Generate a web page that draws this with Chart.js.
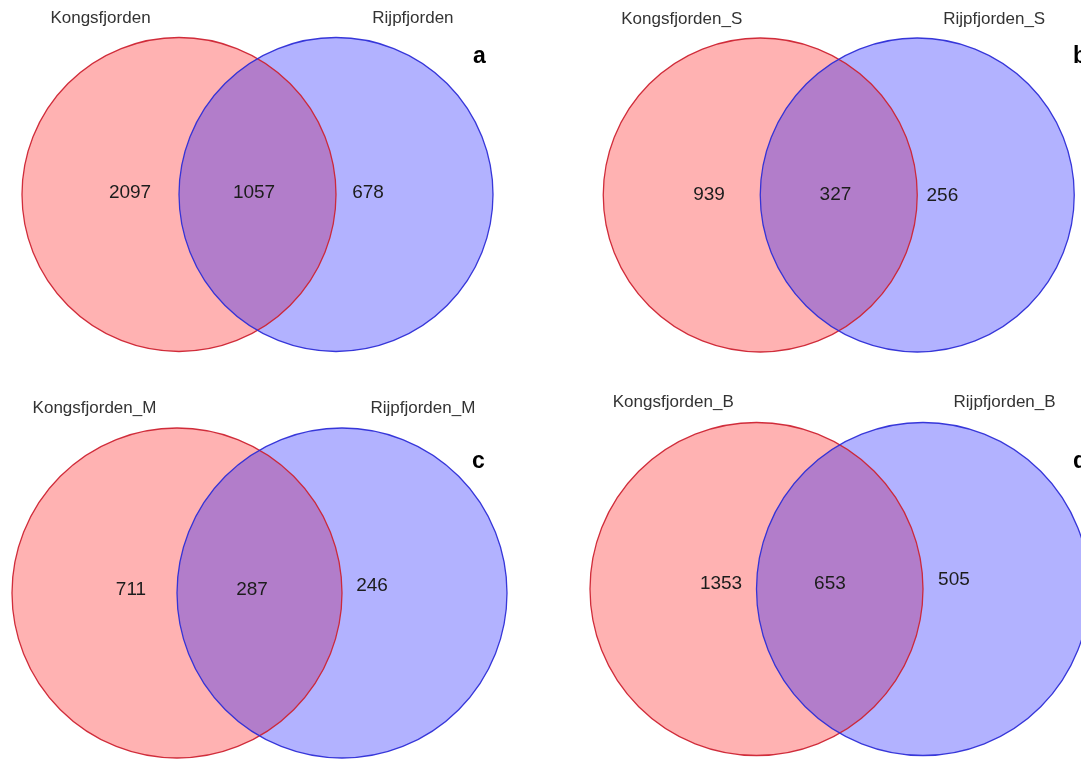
<!DOCTYPE html>
<html>
<head>
<meta charset="utf-8">
<title>Kongsfjorden / Rijpfjorden overlap</title>
<script src="https://cdn.jsdelivr.net/npm/chart.js@4.4.1/dist/chart.umd.min.js"></script>
<style>
  html, body { margin: 0; padding: 0; background: #ffffff; }
  #page { position: relative; width: 1081px; height: 760px; overflow: hidden; background: #ffffff; }
  #page canvas { position: absolute; }
</style>
</head>
<body>
<div id="page">
  <canvas id="venn-a" width="540" height="380" style="left:0px;top:0px"></canvas>
  <canvas id="venn-b" width="541" height="380" style="left:540px;top:0px"></canvas>
  <canvas id="venn-c" width="540" height="380" style="left:0px;top:380px"></canvas>
  <canvas id="venn-d" width="541" height="380" style="left:540px;top:380px"></canvas>
</div>
<script>
// Panel tags
const panelTags = ['a', 'b', 'c', 'd'];

// Set names (left circle, right circle) for each panel
const leftSets  = ['Kongsfjorden', 'Kongsfjorden_S', 'Kongsfjorden_M', 'Kongsfjorden_B'];
const rightSets = ['Rijpfjorden',  'Rijpfjorden_S',  'Rijpfjorden_M',  'Rijpfjorden_B'];

// Counts per region: [left only, shared, right only]
const countsA = [2097, 1057, 678];
const countsB = [939, 327, 256];
const countsC = [711, 287, 246];
const countsD = [1353, 653, 505];
const allCounts = [countsA, countsB, countsC, countsD];

// ---- Layout (in circle-radius units around the midpoint of the two centres) ----
const circleCentres = [-0.5, 0.5];           // two equal circles, centre distance = radius
const nameX = [-1.0, 0.99];
const nameY = 1.12;

const panelLayout = [
  { id: 'venn-a', midX: 257.5, midY: 194.5, radius: 157,
    numX: [-0.812, -0.022, 0.704], numY: [0.01, 0.01, 0.01],
    tag: { x: 473, y: 57 } },
  { id: 'venn-b', midX: 298.75, midY: 195, radius: 157,
    numX: [-0.826, -0.021, 0.660], numY: [0.0, 0.0, -0.006],
    tag: { x: 533, y: 57 } },
  { id: 'venn-c', midX: 259.5, midY: 213, radius: 165,
    numX: [-0.779, -0.045, 0.682], numY: [0.018, 0.018, 0.042],
    tag: { x: 472, y: 82 } },
  { id: 'venn-d', midX: 299.75, midY: 209, radius: 166.5,
    numX: [-0.713, -0.059, 0.686], numY: [0.030, 0.030, 0.054],
    tag: { x: 533, y: 82 } }
];

// ---- Styles ----
const fills   = ['rgba(255, 0, 0, 0.3)', 'rgba(0, 0, 255, 0.3)'];
const strokes = ['rgba(205, 35, 50, 0.95)', 'rgba(45, 45, 215, 0.95)'];
const FONT = '"Liberation Sans", Arial, Helvetica, sans-serif';

// Draws the two set circles beneath the count labels, using the chart scales
const vennCircles = {
  id: 'vennCircles',
  beforeDatasetsDraw(chart) {
    const ctx = chart.ctx;
    const xs = chart.scales.x, ys = chart.scales.y;
    const shapes = circleCentres.map(c => {
      const cx = xs.getPixelForValue(c);
      const cy = ys.getPixelForValue(0);
      const r = xs.getPixelForValue(c + 1) - cx;
      return { cx, cy, r };
    });
    ctx.save();
    shapes.forEach((s, i) => {
      ctx.beginPath();
      ctx.arc(s.cx, s.cy, s.r, 0, Math.PI * 2);
      ctx.fillStyle = fills[i];
      ctx.fill();
    });
    shapes.forEach((s, i) => {
      ctx.beginPath();
      ctx.arc(s.cx, s.cy, s.r, 0, Math.PI * 2);
      ctx.strokeStyle = strokes[i];
      ctx.lineWidth = 1.3;
      ctx.stroke();
    });
    ctx.restore();
  }
};

// Writes the region counts, set names and panel tag
const vennText = {
  id: 'vennText',
  afterDatasetsDraw(chart, args, opts) {
    const ctx = chart.ctx;
    const xs = chart.scales.x, ys = chart.scales.y;
    ctx.save();
    ctx.textAlign = 'center';
    ctx.textBaseline = 'middle';

    // region counts from the dataset points
    const meta = chart.getDatasetMeta(0);
    ctx.fillStyle = '#1c1c1c';
    ctx.font = '19px ' + FONT;
    meta.data.forEach((pt, i) => {
      const d = chart.data.datasets[0].data[i];
      ctx.fillText(String(d.v), pt.x, pt.y);
    });

    // set names
    ctx.fillStyle = '#333333';
    ctx.font = '17px ' + FONT;
    ctx.fillText(opts.names[0], xs.getPixelForValue(nameX[0]), ys.getPixelForValue(nameY));
    ctx.fillText(opts.names[1], xs.getPixelForValue(nameX[1]), ys.getPixelForValue(nameY));

    // panel tag
    ctx.textAlign = 'left';
    ctx.fillStyle = '#000000';
    ctx.font = 'bold 23px ' + FONT;
    ctx.fillText(opts.tag, opts.tagPos.x, opts.tagPos.y);
    ctx.restore();
  }
};

panelLayout.forEach((lay, p) => {
  const canvas = document.getElementById(lay.id);
  const w = canvas.width, h = canvas.height;
  const counts = allCounts[p];
  const points = counts.map((v, i) => ({ x: lay.numX[i], y: lay.numY[i], v: v }));

  new Chart(canvas, {
    type: 'scatter',
    data: {
      datasets: [{
        label: leftSets[p] + ' / ' + rightSets[p],
        data: points,
        pointRadius: 0,
        pointHoverRadius: 0
      }]
    },
    options: {
      responsive: false,
      animation: false,
      events: [],
      layout: { padding: 0 },
      scales: {
        x: { type: 'linear', display: false,
             min: (0 - lay.midX) / lay.radius, max: (w - lay.midX) / lay.radius },
        y: { type: 'linear', display: false,
             min: -(h - lay.midY) / lay.radius, max: lay.midY / lay.radius }
      },
      plugins: {
        legend: { display: false },
        tooltip: { enabled: false },
        title: { display: false },
        vennText: { names: [leftSets[p], rightSets[p]], tag: panelTags[p], tagPos: lay.tag }
      }
    },
    plugins: [vennCircles, vennText]
  });
});
</script>
</body>
</html>
